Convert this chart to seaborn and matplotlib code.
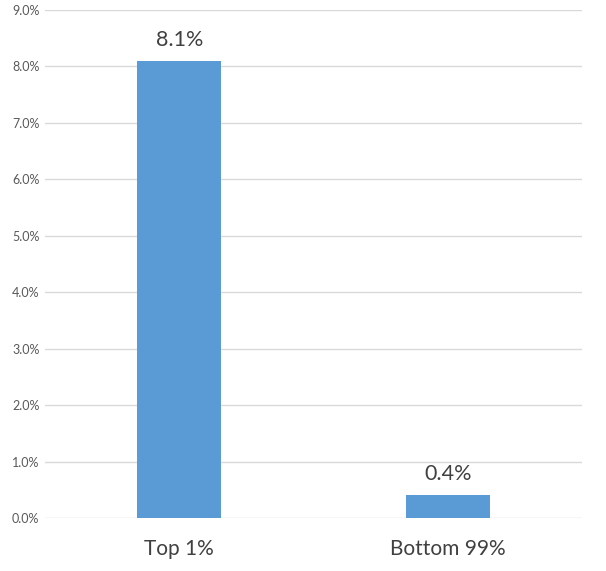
import matplotlib
matplotlib.use("Agg")
import matplotlib.pyplot as plt
import seaborn as sns
import pandas as pd
from matplotlib.ticker import FuncFormatter, MultipleLocator

categories = ["Top 1%", "Bottom 99%"]
values = [8.1, 0.4]
labels = ["8.1%", "0.4%"]

sns.set_theme(style="white")
plt.rcParams['font.family'] = ['Lato', 'DejaVu Sans']

df = pd.DataFrame({"group": categories, "value": values})

fig = plt.figure(figsize=(6.06, 5.71), dpi=100)
ax = fig.add_axes([0.0743, 0.0928, 0.886, 0.8897])
sns.barplot(data=df, x="group", y="value", color="#5B9BD5", saturation=1,
            width=0.313, ax=ax, zorder=3, linewidth=0)

ax.set_ylim(0, 9)
ax.yaxis.set_major_locator(MultipleLocator(1))
ax.yaxis.set_major_formatter(FuncFormatter(lambda v, p: f"{v:.1f}%"))
ax.grid(axis="y", color="#D9D9D9", linewidth=1, zorder=0)
ax.set_axisbelow(True)
for s in ax.spines.values():
    s.set_visible(False)
ax.tick_params(axis="y", length=0, labelsize=9, labelcolor="#595959", pad=4)
ax.tick_params(axis="x", length=0, labelsize=15, labelcolor="#404040", pad=15)
ax.set_xlabel("")
ax.set_ylabel("")

for patch, lab in zip(ax.patches, labels):
    ax.annotate(lab, (patch.get_x() + patch.get_width() / 2, patch.get_height()),
                xytext=(0, 8), textcoords="offset points", ha="center", va="bottom",
                fontsize=15.5, color="#404040")

fig.savefig("out.png", dpi=100)
